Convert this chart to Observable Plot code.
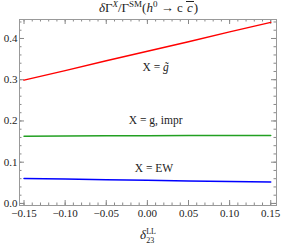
<!DOCTYPE html>
<html><head><meta charset="utf-8">
<script src="https://cdn.jsdelivr.net/npm/d3@7"></script>
<script src="https://cdn.jsdelivr.net/npm/@observablehq/plot@0.6"></script>
<style>
body{margin:0;background:#fff;}
#wrap{position:relative;width:281px;height:245px;font-family:"Liberation Serif",serif;color:#222;}
#wrap svg{position:absolute;left:0;top:0;}
.ov{position:absolute;white-space:nowrap;text-align:center;}
#title{left:0;width:297px;top:0px;font-size:13px;line-height:16px;}
#xlab{left:0;width:296px;top:226px;font-size:13px;line-height:18px;height:18px;}
sup,sub{font-size:9px;line-height:0;}
.ss{display:inline-block;vertical-align:middle;line-height:9px;font-size:8px;text-align:left;}
.cbar{display:inline-block;border-top:1px solid #222;line-height:11px;font-style:italic;padding:0 1px;}
</style></head>
<body><div id="wrap"></div>
<script>
const delta = [-0.15, -0.10, -0.05, 0.00, 0.05, 0.10, 0.15];
const gTilde = [0.299, 0.322, 0.346, 0.369, 0.392, 0.416, 0.439];
const gImpr = [0.163, 0.1635, 0.164, 0.164, 0.1645, 0.165, 0.165];
const ew = [0.0605, 0.059, 0.0575, 0.056, 0.0545, 0.053, 0.052];
const seriesNames = ["X = g̃", "X = g, impr", "X = EW"];
const seriesColors = ["#ff0000", "#22a022", "#0000ff"];
const labelX = [0.01, 0.01, 0.008];
const labelY = [0.33, 0.201, 0.085];
const xTicks = [-0.15, -0.10, -0.05, 0.00, 0.05, 0.10, 0.15];
const yTicks = [0.0, 0.1, 0.2, 0.3, 0.4];

const xDom = [-0.1555, 0.157];
const yDom = [-0.005, 0.446];
const rows = [];
[gTilde, gImpr, ew].forEach((s, i) => s.forEach((v, j) => rows.push({x: delta[j], y: v, s: seriesNames[i]})));
const labels = seriesNames.map((n, i) => ({x: labelX[i], y: labelY[i], t: n}));

const xMinorAll = d3.range(-15, 16, 1).map(v => v / 100);
const yMinorAll = d3.range(0, 45, 2).map(v => v / 100);
const ySpan = yDom[1] - yDom[0], xSpan = xDom[1] - xDom[0];
const hT = 186, wT = 257;
const ytl = L => L / hT * ySpan, xtl = L => L / wT * xSpan;
const tickCol = "#888";
const chart = Plot.plot({
  width: 281, height: 245,
  marginLeft: 19, marginRight: 5, marginTop: 19, marginBottom: 40,
  style: {fontFamily: "Liberation Serif, serif", fontSize: "11px", color: "#222", background: "transparent"},
  x: {domain: xDom},
  y: {domain: yDom},
  marks: [
    Plot.ruleX(xMinorAll, {x: d => d, y1: yDom[0], y2: yDom[0] + ytl(2.5), stroke: tickCol}),
    Plot.ruleX(xMinorAll, {x: d => d, y1: yDom[1], y2: yDom[1] - ytl(2.5), stroke: tickCol}),
    Plot.ruleX(xTicks, {x: d => d, y1: yDom[0], y2: yDom[0] + ytl(5), stroke: tickCol}),
    Plot.ruleX(xTicks, {x: d => d, y1: yDom[1], y2: yDom[1] - ytl(5), stroke: tickCol}),
    Plot.ruleY(yMinorAll, {y: d => d, x1: xDom[0], x2: xDom[0] + xtl(2.5), stroke: tickCol}),
    Plot.ruleY(yMinorAll, {y: d => d, x1: xDom[1], x2: xDom[1] - xtl(2.5), stroke: tickCol}),
    Plot.ruleY(yTicks, {y: d => d, x1: xDom[0], x2: xDom[0] + xtl(5), stroke: tickCol}),
    Plot.ruleY(yTicks, {y: d => d, x1: xDom[1], x2: xDom[1] - xtl(5), stroke: tickCol}),
    Plot.frame({stroke: "#999", strokeWidth: 1}),
    Plot.axisX(xTicks, {tickSize: 0, tickPadding: 4, tickFormat: d3.format(".2f"), label: null, fill: "#222"}),
    Plot.axisY(yTicks, {tickSize: 0, tickPadding: 2, tickFormat: d3.format(".1f"), label: null, fill: "#222"}),
    Plot.line(rows, {x: "x", y: "y", z: "s", stroke: "s", strokeWidth: 1.5}),
    Plot.text(labels, {x: "x", y: "y", text: "t", fontSize: 11.5, fill: "#222"})
  ],
  color: {domain: seriesNames, range: seriesColors}
});
const wrap = document.getElementById("wrap");
wrap.appendChild(chart);
chart.querySelectorAll("text").forEach(el => {
  if (el.textContent === seriesNames[0]) {
    el.textContent = "X = ";
    const ts = document.createElementNS("http://www.w3.org/2000/svg", "tspan");
    ts.setAttribute("font-style", "italic");
    ts.textContent = "g̃";
    el.appendChild(ts);
  }
});
const t = document.createElement("div");
t.className = "ov"; t.id = "title";
t.innerHTML = '<i>δ</i>Γ<sup><i>X</i></sup>/Γ<sup>SM</sup>(<i>h</i><sup>0</sup> → c <span class="cbar">c</span>)';
wrap.appendChild(t);
const xl = document.createElement("div");
xl.className = "ov"; xl.id = "xlab";
xl.innerHTML = '<i>δ</i><span class="ss">LL<br>23</span>';
wrap.appendChild(xl);
</script></body></html>
